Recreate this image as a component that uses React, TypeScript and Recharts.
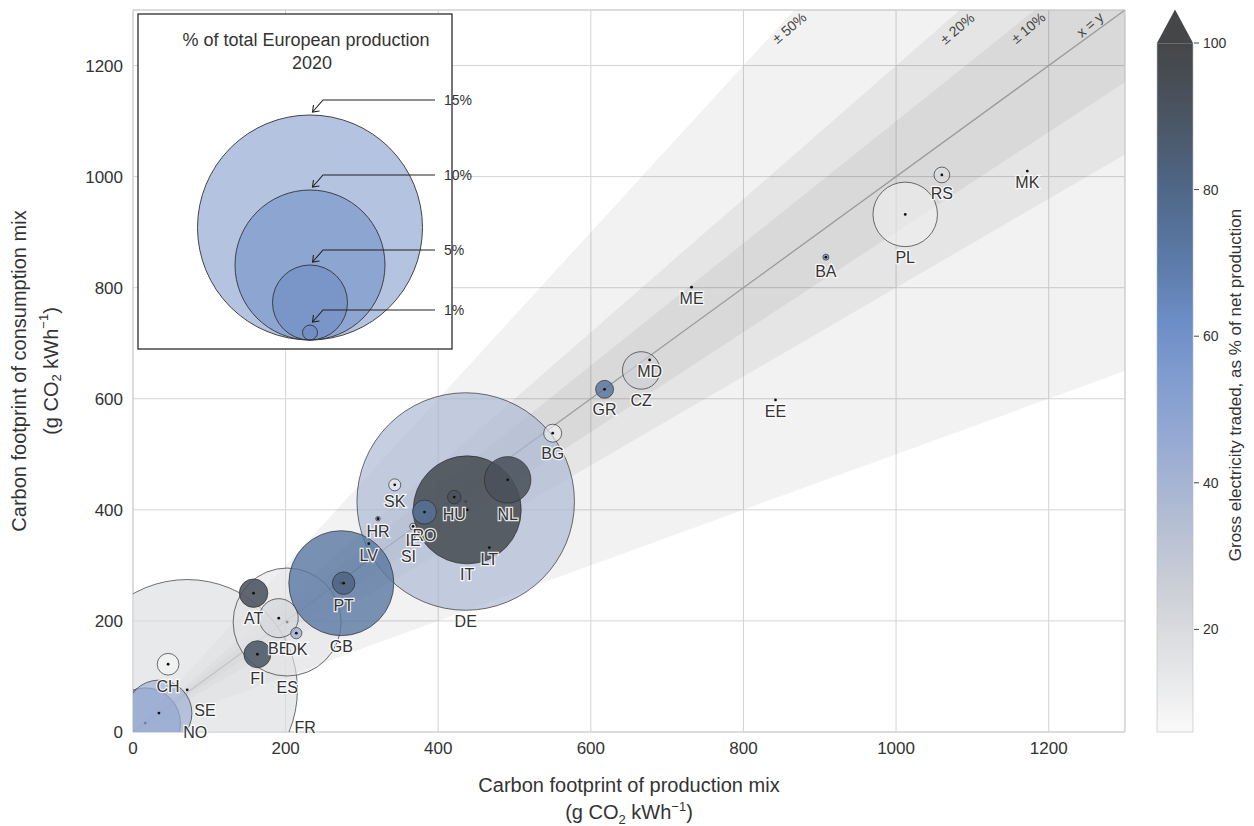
import React from 'react';
import {
  ComposedChart,
  Area,
  Scatter,
  XAxis,
  YAxis,
  CartesianGrid,
  ReferenceLine,
  ReferenceDot,
} from 'recharts';

// ---- data ----
const codes = ['NO', 'SE', 'FR', 'CH', 'FI', 'ES', 'AT', 'BE', 'DK', 'GB', 'PT', 'LV', 'HR', 'SK', 'IE', 'SI', 'RO', 'HU', 'IT', 'LT', 'DE', 'NL', 'BG', 'GR', 'CZ', 'MD', 'ME', 'BA', 'PL', 'RS', 'MK', 'EE'];
// carbon footprint of production mix (g CO2/kWh)
const production = [16, 34, 71, 46, 163, 202, 158, 191, 214, 273, 276, 309, 321, 343, 367, 361, 382, 421, 438, 467, 436, 491, 550, 618, 666, 677, 732, 908, 1012, 1060, 1172, 842];
// carbon footprint of consumption mix (g CO2/kWh)
const consumption = [16, 34, 76, 122, 140, 198, 250, 205, 178, 268, 268, 339, 384, 445, 370, 339, 396, 423, 400, 332, 415, 454, 538, 617, 651, 670, 801, 855, 932, 1003, 1010, 598];
// % of total European production 2020
const shareOfEurope = [4.7, 4.4, 14.7, 1.45, 1.8, 7.2, 1.9, 2.6, 0.75, 7.0, 1.5, 0.15, 0.3, 0.8, 0.45, 0.25, 1.6, 0.9, 7.2, 0.1, 14.5, 3.1, 1.2, 1.2, 2.5, 0.1, 0.1, 0.4, 4.3, 1.05, 0.1, 0.1];
// gross electricity traded, % of net production
const traded = [56, 42, 20, 7, 90, 15, 92, 22, 45, 72, 82, 90, 30, 8, 15, 15, 75, 92, 95, 100, 38, 93, 8, 75, 25, 90, 50, 55, 10, 20, 60, 80];

const bandHalfWidths = [0.5, 0.2, 0.1];
const bandLabels = [
  { text: '\u00b1 50%', x: 860, y: 1268 },
  { text: '\u00b1 20%', x: 1080, y: 1267 },
  { text: '\u00b1 10%', x: 1173, y: 1268 },
  { text: 'x = y', x: 1254, y: 1274 },
];
const axisTicks = [0, 200, 400, 600, 800, 1000, 1200];
const AXIS_MAX = 1300;
const legendShares = [15, 10, 5, 1];
const colorbarTicks = [20, 40, 60, 80, 100];
const COLOR_MIN = 6;
const COLOR_MAX = 100;

// no scrollbars: the figure fills the window exactly
document.documentElement.style.overflow = 'hidden';
document.body.style.overflow = 'hidden';

// ---- layout / style ----
const FONT = '"Liberation Sans", Arial, sans-serif';
const CHART_W = 1130;
const CHART_H = 818;
const CBAR_W = 108;
const MARGIN = { top: 2, right: 13, bottom: 64, left: 5 };
const Y_AXIS_W = 120;
const X_AXIS_H = 30;
const PLOT = {
  x: MARGIN.left + Y_AXIS_W,
  y: MARGIN.top,
  w: CHART_W - MARGIN.left - Y_AXIS_W - MARGIN.right,
  h: CHART_H - MARGIN.top - MARGIN.bottom - X_AXIS_H,
};
const PX_PER_PCT = 7.5;
const labelNudge: Record<string, [number, number]> = {
  NO: [50, -37],
  SE: [46, -47],
  FR: [118, -84],
};

const colorStops: [number, string][] = [
  [6, '#f9f9f9'], [15, '#e4e5e7'], [25, '#cdd0d6'], [35, '#b3bdd3'], [45, '#98abd3'],
  [55, '#7f9bcf'], [62, '#6d8dc6'], [70, '#5c7ba9'], [80, '#4f6788'], [90, '#4a5562'], [100, '#454648'],
];

const hexToRgb = (h: string) => [1, 3, 5].map((i) => parseInt(h.slice(i, i + 2), 16));
const colorFor = (v: number) => {
  if (v <= colorStops[0][0]) return colorStops[0][1];
  for (let i = 1; i < colorStops.length; i++) {
    const [v1, c1] = colorStops[i];
    if (v <= v1) {
      const [v0, c0] = colorStops[i - 1];
      const t = (v - v0) / (v1 - v0);
      const a = hexToRgb(c0);
      const b = hexToRgb(c1);
      const m = a.map((ch, k) => Math.round(ch + (b[k] - ch) * t));
      return `rgb(${m[0]},${m[1]},${m[2]})`;
    }
  }
  return colorStops[colorStops.length - 1][1];
};

// bubbles, drawn largest first
const bubbles = codes
  .map((code, i) => ({ code, x: production[i], y: consumption[i], share: shareOfEurope[i], traded: traded[i] }))
  .sort((a, b) => b.share - a.share);

// wedge rows (edges clipped to the axis box)
const bandBreaks = [0, ...bandHalfWidths.map((f) => AXIS_MAX / (1 + f)), AXIS_MAX].sort((a, b) => a - b);
const bandRows = bandBreaks.map((x) => {
  const row: any = { x };
  bandHalfWidths.forEach((f, i) => {
    row[`band${i}`] = [x * (1 - f), Math.min(x * (1 + f), AXIS_MAX)];
  });
  return row;
});

const BubbleShape = (props: any) => {
  const { cx, cy, payload } = props;
  const r = payload.share * PX_PER_PCT;
  const alpha = 0.55 + 0.35 * (payload.traded / 100);
  return (
    <g clipPath="url(#plot-clip)">
      {r >= 1.5 && (
        <circle cx={cx} cy={cy} r={r} fill={colorFor(payload.traded)} fillOpacity={alpha} stroke="#2b2b2b" strokeOpacity={0.75} strokeWidth={0.9} />
      )}
      <circle cx={cx} cy={cy} r={1.4} fill="#111" />
    </g>
  );
};

const LabelShape = (props: any) => {
  const { cx, cy, payload } = props;
  const r = payload.share * PX_PER_PCT;
  const [dx, dy] = labelNudge[payload.code] ?? [0, 0];
  return (
    <text
      x={cx + dx}
      y={cy + r + 11 + dy}
      textAnchor="middle"
      dominantBaseline="central"
      fontFamily={FONT}
      fontSize={16}
      fill="#333"
      stroke="#fff"
      strokeWidth={2.5}
      strokeOpacity={0.85}
      paintOrder="stroke"
    >
      {payload.code}
    </text>
  );
};

const XTitle = (props: any) => {
  const { x, y, width } = props.viewBox;
  const cx = x + width / 2;
  return (
    <text fontFamily={FONT} fontSize={20} fill="#333" textAnchor="middle">
      <tspan x={cx} y={y + 60}>Carbon footprint of production mix</tspan>
      <tspan x={cx} y={y + 87}>(g CO</tspan>
      <tspan fontSize={13} dy={5}>2</tspan>
      <tspan dy={-5}> kWh</tspan>
      <tspan fontSize={13} dy={-8}>{'\u22121'}</tspan>
      <tspan dy={8}>)</tspan>
    </text>
  );
};

const YTitle = (props: any) => {
  const { x, y, height } = props.viewBox;
  const cy = y + height / 2;
  const x1 = x + 6;
  const x2 = x + 38;
  return (
    <g fontFamily={FONT} fontSize={20} fill="#333">
      <text x={x1} y={cy} textAnchor="middle" dominantBaseline="central" transform={`rotate(-90 ${x1} ${cy})`}>
        Carbon footprint of consumption mix
      </text>
      <text x={x2} y={cy} textAnchor="middle" dominantBaseline="central" transform={`rotate(-90 ${x2} ${cy})`}>
        (g CO<tspan fontSize={13} dy={5}>2</tspan>
        <tspan dy={-5}> kWh</tspan>
        <tspan fontSize={13} dy={-8}>{'\u22121'}</tspan>
        <tspan dy={8}>)</tspan>
      </text>
    </g>
  );
};

const SizeLegend = () => {
  const box = { x: 130, y: 6, w: 314, h: 335 };
  const cx = 302;
  const bottom = 332;
  return (
    <svg width={CHART_W} height={CHART_H} style={{ position: 'absolute', left: 0, top: 0, pointerEvents: 'none' }}>
      <defs>
        <clipPath id="plot-clip">
          <rect x={PLOT.x} y={PLOT.y} width={PLOT.w} height={PLOT.h} />
        </clipPath>
      </defs>
      <rect x={box.x} y={box.y} width={box.w} height={box.h} fill="#fff" stroke="#1a1a1a" strokeWidth={1.2} />
      <text x={298} y={32} textAnchor="middle" dominantBaseline="central" fontFamily={FONT} fontSize={18} fill="#333">
        % of total European production
      </text>
      <text x={304} y={55} textAnchor="middle" dominantBaseline="central" fontFamily={FONT} fontSize={18} fill="#333">
        2020
      </text>
      {legendShares.map((s) => {
        const r = s * PX_PER_PCT;
        return (
          <circle key={`c${s}`} cx={cx} cy={bottom - r} r={r} fill="rgb(103,135,193)" fillOpacity={0.5} stroke="#333" strokeWidth={0.9} />
        );
      })}
      {legendShares.map((s) => {
        const top = bottom - 2 * s * PX_PER_PCT;
        const ly = top - 15;
        const tipX = cx + 2.5;
        const tipY = top - 3;
        return (
          <g key={`a${s}`} stroke="#222" strokeWidth={1.1} fill="none">
            <polyline points={`427,${ly} 315,${ly} ${tipX},${tipY}`} />
            <polyline points={`${tipX + 1},${tipY - 7} ${tipX},${tipY} ${tipX + 7},${tipY - 1}`} />
            <text x={436} y={ly} dominantBaseline="central" fontFamily={FONT} fontSize={14} fill="#333" stroke="none">
              {`${s}%`}
            </text>
          </g>
        );
      })}
    </svg>
  );
};

const Colorbar = () => {
  const x0 = 19;
  const w = 36;
  const yTop = 35;
  const pxPerUnit = 7.33;
  const yOf = (v: number) => yTop + (COLOR_MAX - v) * pxPerUnit;
  const yBottom = yOf(COLOR_MIN);
  return (
    <svg width={CBAR_W} height={CHART_H} style={{ position: 'absolute', left: CHART_W, top: 0 }}>
      <defs>
        <linearGradient id="cbar" x1="0" y1="1" x2="0" y2="0">
          {colorStops.map(([v, c]) => (
            <stop key={v} offset={(v - COLOR_MIN) / (COLOR_MAX - COLOR_MIN)} stopColor={c} />
          ))}
        </linearGradient>
      </defs>
      <rect x={x0} y={yTop} width={w} height={yBottom - yTop} fill="url(#cbar)" stroke="#bbb" strokeWidth={0.6} />
      <polygon points={`${x0},${yTop} ${x0 + w / 2},${1.5} ${x0 + w},${yTop}`} fill={colorFor(COLOR_MAX)} />
      {colorbarTicks.map((t) => (
        <g key={t}>
          <line x1={x0 + w + 1} x2={x0 + w + 6} y1={yOf(t)} y2={yOf(t)} stroke="#444" strokeWidth={1} />
          <text x={x0 + w + 10} y={yOf(t)} dominantBaseline="central" fontFamily={FONT} fontSize={14} fill="#333">
            {t}
          </text>
        </g>
      ))}
      <text
        x={97}
        y={377}
        textAnchor="middle"
        dominantBaseline="central"
        transform="rotate(-90 97 377)"
        fontFamily={FONT}
        fontSize={17}
        fill="#333"
      >
        Gross electricity traded, as % of net production
      </text>
    </svg>
  );
};

const App = () => {
  const tickStyle = { fontFamily: FONT, fontSize: 17, fill: '#333' };
  return (
    <div style={{ position: 'relative', width: CHART_W + CBAR_W, height: CHART_H, background: '#fff' }}>
      <ComposedChart width={CHART_W} height={CHART_H} data={bandRows} margin={MARGIN}>
        <CartesianGrid stroke="#d4d4d4" strokeWidth={1} />
        <XAxis
          type="number"
          dataKey="x"
          domain={[0, AXIS_MAX]}
          ticks={axisTicks}
          height={X_AXIS_H}
          tick={tickStyle}
          tickLine={false}
          axisLine={{ stroke: '#cfcfcf' }}
          tickMargin={4}
          label={<XTitle />}
        />
        <YAxis
          type="number"
          domain={[0, AXIS_MAX]}
          ticks={axisTicks}
          width={Y_AXIS_W}
          tick={tickStyle}
          tickLine={false}
          axisLine={{ stroke: '#cfcfcf' }}
          tickMargin={4}
          label={<YTitle />}
        />
        {bandHalfWidths.map((f, i) => (
          <Area
            key={f}
            type="linear"
            dataKey={`band${i}`}
            stroke="none"
            fill="#000"
            fillOpacity={0.05}
            isAnimationActive={false}
            activeDot={false}
          />
        ))}
        <ReferenceLine segment={[{ x: 0, y: 0 }, { x: AXIS_MAX, y: AXIS_MAX }]} stroke="#9a9a9a" strokeWidth={1.3} />
        <ReferenceLine y={AXIS_MAX} stroke="#cfcfcf" />
        <ReferenceLine x={AXIS_MAX} stroke="#cfcfcf" />
        <Scatter data={bubbles} dataKey="y" shape={<BubbleShape />} isAnimationActive={false} />
        <Scatter data={bubbles} dataKey="y" shape={<LabelShape />} isAnimationActive={false} />
        {bandLabels.map((b) => (
          <ReferenceDot
            key={b.text}
            x={b.x}
            y={b.y}
            r={0}
            shape={(p: any) => (
              <text
                x={p.cx}
                y={p.cy}
                textAnchor="middle"
                dominantBaseline="central"
                transform={`rotate(-40 ${p.cx} ${p.cy})`}
                fontFamily={FONT}
                fontSize={14}
                fill="#444"
              >
                {b.text}
              </text>
            )}
          />
        ))}
      </ComposedChart>
      <SizeLegend />
      <Colorbar />
    </div>
  );
};

export default App;
